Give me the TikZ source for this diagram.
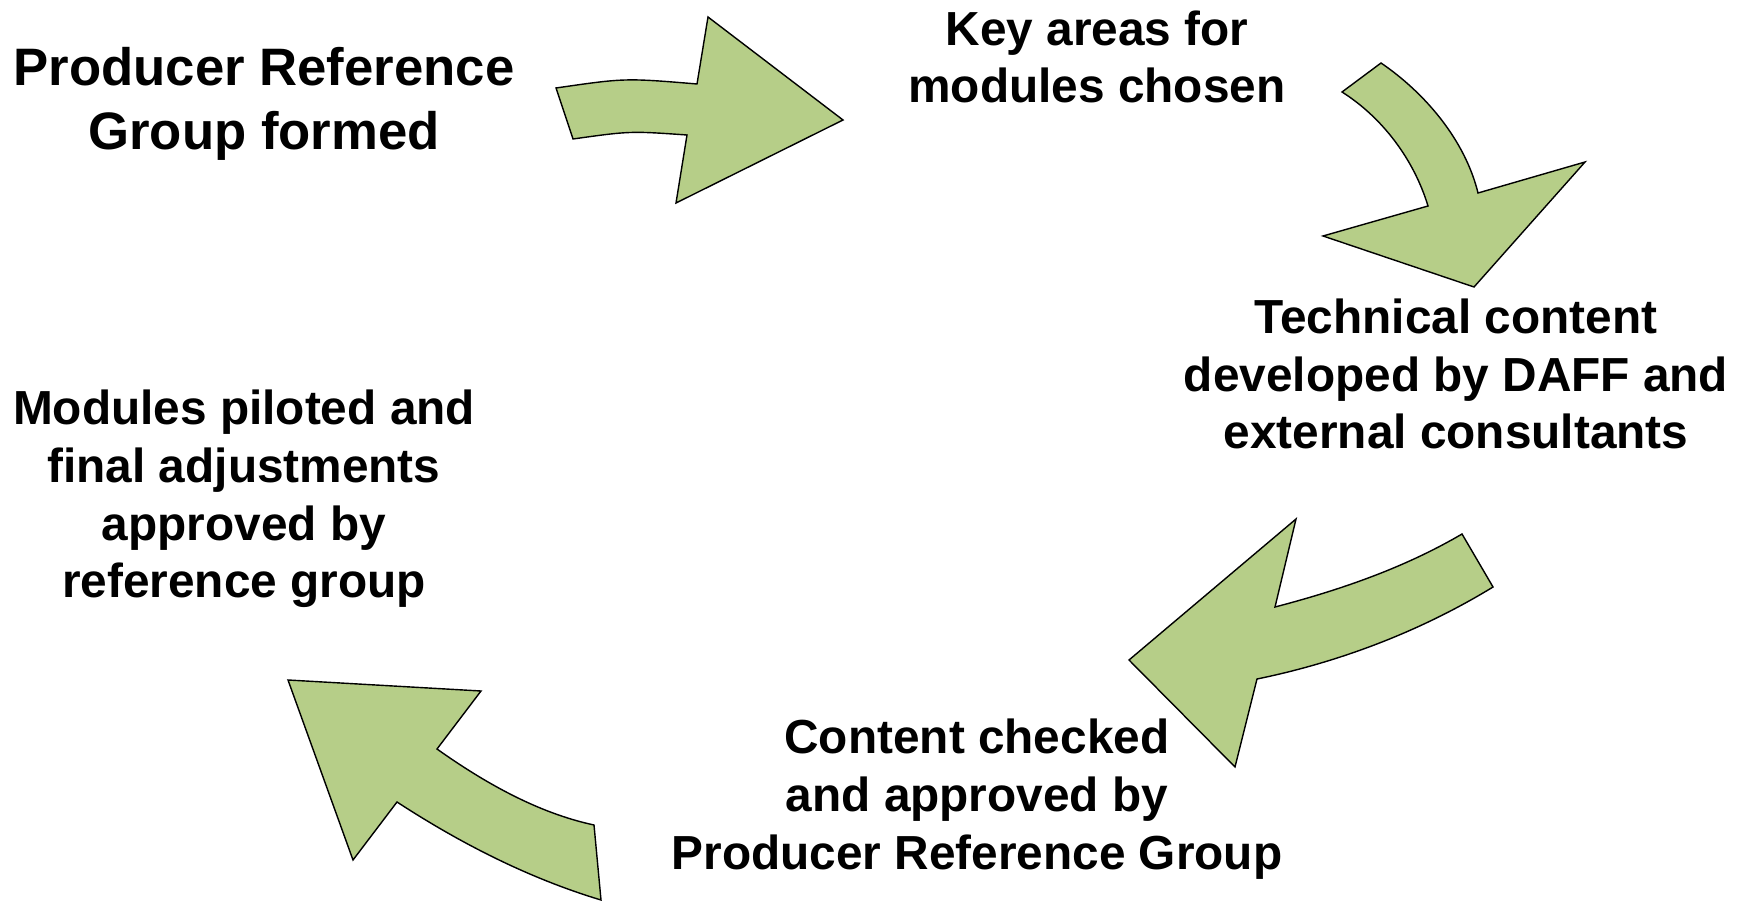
\documentclass[tikz,border=0pt]{standalone}
\usepackage{fontspec}
\setmainfont{Liberation Sans}
\definecolor{vertfleche}{RGB}{182,206,136}

\begin{document}
\begin{tikzpicture}[x=0.02cm,y=-0.02cm,
  fleche/.style={fill=vertfleche,draw=black,line width=0.8pt,line join=miter},
  etape/.style={align=center,inner sep=0pt,font=\bfseries\fontsize{27.2}{32.9}\selectfont},
  grande/.style={font=\bfseries\fontsize{30}{36}\selectfont}]

\useasboundingbox (0,0) rectangle (1746,901);

% fleches courbes
\draw[fleche] (556,88) .. controls (625,78) .. (697,84) -- (708,17) -- (843,120) -- (676,203) -- (687,135) .. controls (630,131) .. (573,139) -- cycle;
\draw[fleche] (1381,63) .. controls (1425,93) and (1465,140) .. (1478,193) -- (1585,162) -- (1474,287) -- (1323,236) -- (1428,206) .. controls (1414,160) and (1383,118) .. (1342,92) -- cycle;
\draw[fleche] (1462,534) .. controls (1404,568) and (1340,590) .. (1275,607) -- (1296,519) -- (1129,660) -- (1235,767) -- (1257,679) .. controls (1340,662) and (1421,631) .. (1493,587) -- cycle;
\draw[fleche] (594,825) .. controls (538,813) and (485,783) .. (437,749) -- (481,691) -- (288,680) -- (353,860) -- (397,802) .. controls (460,843) and (528,878) .. (601,900) -- cycle;

% etapes
\node[etape,grande] (groupe) at (264,104) {Producer Reference\\Group formed};
\node[etape] (domaines) at (1097,57) {Key areas for\\modules chosen};
\node[etape] (contenu) at (1456,374) {Technical content\\developed by DAFF and\\external consultants};
\node[etape] (verif) at (977,799) {Content checked\\and approved by\\Producer Reference Group};
\node[etape] (pilote) at (244,499) {Modules piloted and\\final adjustments\\approved by\\reference group};

\end{tikzpicture}
\end{document}
